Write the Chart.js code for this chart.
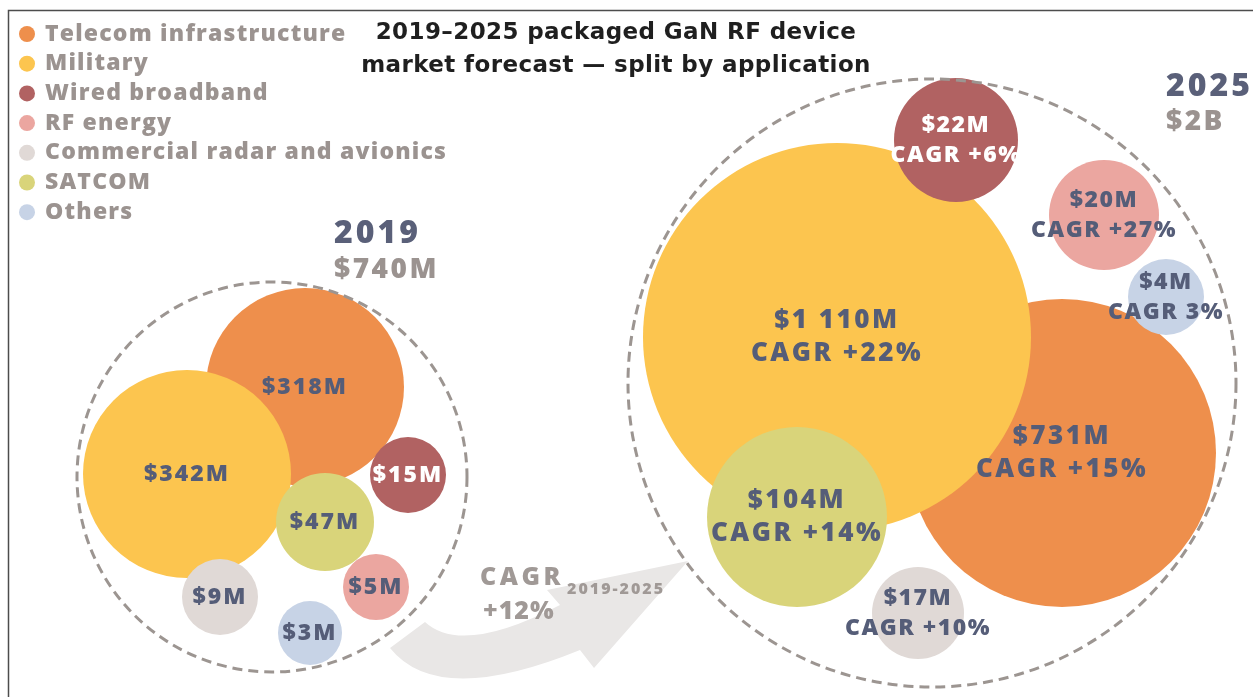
<!DOCTYPE html>
<html>
<head>
<meta charset="utf-8">
<script src="https://cdn.jsdelivr.net/npm/chart.js@4.4.1/dist/chart.umd.min.js"></script>
<style>
    html, body { margin: 0; padding: 0; background: #fff; }
    canvas { display: block; }
</style>
</head>
<body>
<canvas id="ganChart" width="1253" height="697"></canvas>
<script>
/**************** DATA ****************/
const categories = ["Telecom infrastructure", "Military", "Wired broadband", "RF energy",
    "Commercial radar and avionics", "SATCOM", "Others"];
const years = ["2019", "2025"];
const yearTotals = ["$740M", "$2B"];
const market2019 = [318, 342, 15, 5, 9, 47, 3];        // $M
const market2025 = [731, 1110, 22, 20, 17, 104, 4];    // $M
const cagr2025 = ["+15%", "+22%", "+6%", "+27%", "+10%", "+14%", "3%"];
const cagrTotal = "+12%";
const cagrPeriod = "2019-2025";
const title = ["2019\u20132025 packaged GaN RF device", "market forecast \u2014 split by application"];

/**************** LAYOUT (packed bubbles, 1253 x 697 grid) ****************/
const x2019 = [305, 187, 408, 376, 220, 325, 310];
const y2019 = [387, 474, 475, 587, 597, 522, 633];
const r2019 = [99, 104, 38, 33, 38, 49, 32];
const x2025 = [1062, 837, 956, 1104, 918, 797, 1166];
const y2025 = [453, 337, 140, 215, 613, 517, 297];
const r2025 = [154, 194, 62, 55, 46, 90, 38];
const groupX = [272, 932];
const groupY = [477, 383];
const groupR = [195, 304];

/**************** STYLE ****************/
const colors = ["#ee8f4c", "#fcc54f", "#b16262", "#eba6a0", "#e0d9d6", "#d9d47a", "#c7d3e6"];
const drawOrder = [3, 2, 1, 1, 1, 1, 1];   // lower = on top
const INK = "#555d78";
const GREY = "#9b9390";
const FONT = "'Open Sans'";
const W = "800 ";

/**************** HELPERS ****************/
function money(v) {
    if (v >= 1000) return "$" + Math.floor(v / 1000) + " " + String(v % 1000).padStart(3, "0") + "M";
    return "$" + v + "M";
}

function text(ctx, str, x, y, font, color, align, spacing) {
    ctx.font = font;
    ctx.fillStyle = color;
    ctx.textAlign = align || "left";
    ctx.textBaseline = "middle";
    ctx.letterSpacing = spacing || "0px";
    ctx.fillText(str, x, y);
    ctx.letterSpacing = "0px";
}

/**************** DECORATION PLUGIN ****************/
const decor = {
    id: "decor",
    beforeDatasetsDraw(chart) {
        const ctx = chart.ctx;
        ctx.save();
        // frame
        ctx.strokeStyle = "#4d4d4d";
        ctx.lineWidth = 1.5;
        ctx.beginPath();
        ctx.moveTo(8.5, 697);
        ctx.lineTo(8.5, 10.5);
        ctx.lineTo(1253, 10.5);
        ctx.stroke();

        // growth arrow
        ctx.fillStyle = "#e9e7e6";
        ctx.beginPath();
        ctx.moveTo(390, 648);
        ctx.quadraticCurveTo(438, 708, 580, 650);
        ctx.lineTo(594, 668);
        ctx.lineTo(688, 561);
        ctx.lineTo(547, 590);
        ctx.lineTo(560, 605);
        ctx.quadraticCurveTo(462, 656, 425, 622);
        ctx.closePath();
        ctx.fill();
        ctx.restore();
    },
    afterDatasetsDraw(chart) {
        const ctx = chart.ctx;
        const xs = chart.scales.x, ys = chart.scales.y;
        ctx.save();

        // dashed year groups
        ctx.strokeStyle = "#9c9591";
        ctx.lineWidth = 3;
        ctx.setLineDash([10, 6]);
        groupX.forEach((gx, g) => {
            ctx.beginPath();
            ctx.arc(xs.getPixelForValue(gx), ys.getPixelForValue(groupY[g]), groupR[g], 0, Math.PI * 2);
            ctx.stroke();
        });
        ctx.setLineDash([]);

        // bubble labels
        categories.forEach((c, i) => {
            const meta = chart.getDatasetMeta(i);
            const col = i === 2 ? "#ffffff" : INK;
            const a = meta.data[0];
            text(ctx, money(market2019[i]), a.x, a.y, W + "23px " + FONT, col, "center", "2px");

            const b = meta.data[1];
            const big = r2025[i] >= 80;
            const font = big ? W + "26px " + FONT : W + "23px " + FONT;
            const gap = big ? 16.5 : 15;
            const sp = big ? "2.5px" : "1.5px";
            text(ctx, money(market2025[i]), b.x, b.y - gap, font, col, "center", sp);
            text(ctx, "CAGR " + cagr2025[i], b.x, b.y + gap, font, col, "center", sp);
        });

        // legend
        categories.forEach((c, i) => {
            const y = 34 + i * 29.7;
            ctx.fillStyle = colors[i];
            ctx.beginPath();
            ctx.arc(27, y, 8, 0, Math.PI * 2);
            ctx.fill();
            text(ctx, c, 45, y, W + "23px " + FONT, GREY, "left", "1.2px");
        });

        // title
        text(ctx, title[0], 616, 33, "bold 23px 'DejaVu Sans'", "#1f1f1f", "center", "0.4px");
        text(ctx, title[1], 616, 66, "bold 23px 'DejaVu Sans'", "#1f1f1f", "center", "0.4px");

        // year headers
        text(ctx, years[0], 334, 234, W + "32px " + FONT, "#5a6079", "left", "3px");
        text(ctx, yearTotals[0], 334, 270, W + "28px " + FONT, GREY, "left", "2.5px");
        text(ctx, years[1], 1166, 87, W + "32px " + FONT, "#5a6079", "left", "3px");
        text(ctx, yearTotals[1], 1166, 122, W + "28px " + FONT, GREY, "left", "2.5px");

        // overall growth
        text(ctx, "CAGR", 480, 578, W + "25px " + FONT, "#a09996", "left", "3.5px");
        text(ctx, cagrPeriod, 567, 589, W + "16px " + FONT, "#a09996", "left", "2px");
        text(ctx, cagrTotal, 483, 612, W + "25px " + FONT, "#a09996", "left", "1px");

        ctx.restore();
    }
};

/**************** CHART ****************/
const datasets = categories.map((c, i) => ({
    label: c,
    data: [
        { x: x2019[i], y: y2019[i], r: r2019[i] },
        { x: x2025[i], y: y2025[i], r: r2025[i] }
    ],
    backgroundColor: colors[i],
    borderWidth: 0,
    hoverRadius: 0,
    order: drawOrder[i],
    clip: false
}));

new Chart(document.getElementById("ganChart"), {
    type: "bubble",
    data: { datasets },
    options: {
        responsive: false,
        animation: false,
        devicePixelRatio: 1,
        layout: { padding: 0, autoPadding: false },
        scales: {
            x: { type: "linear", min: 0, max: 1253, display: false },
            y: { type: "linear", min: 0, max: 697, reverse: true, display: false }
        },
        plugins: {
            legend: { display: false },
            tooltip: { enabled: false }
        },
        events: []
    },
    plugins: [decor]
});
</script>
</body>
</html>
